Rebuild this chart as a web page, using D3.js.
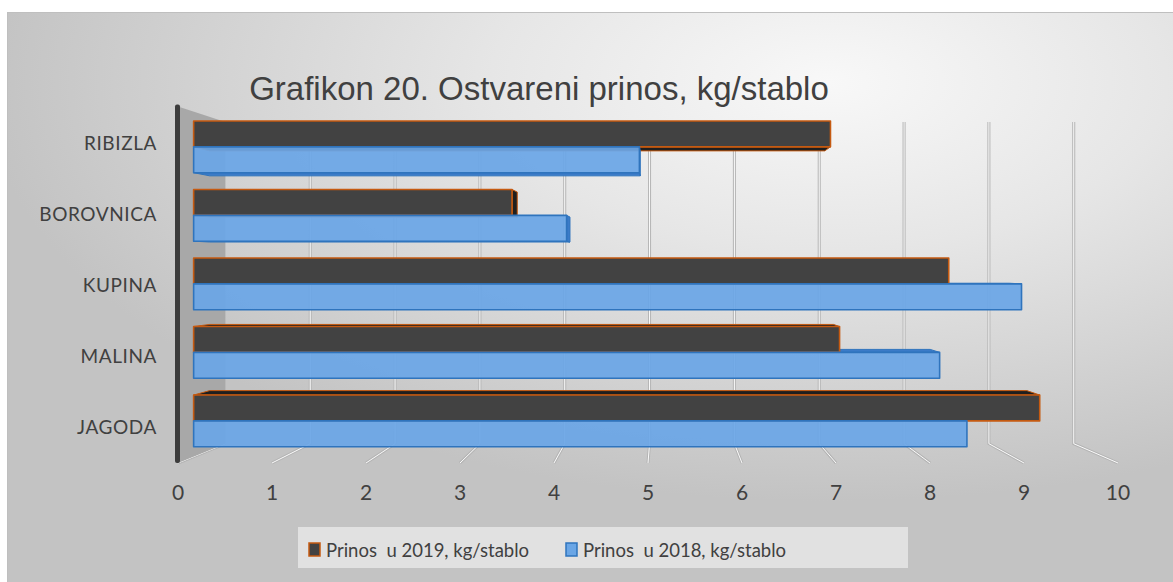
<!DOCTYPE html>
<html>
<head>
<meta charset="utf-8">
<script src="https://cdn.jsdelivr.net/npm/d3@7"></script>
<style>
  body { margin: 0; background: #fff; }
  text { font-family: Lato, "Open Sans", sans-serif; fill: #404040; white-space: pre; }
</style>
</head>
<body>
<div id="chart"></div>
<script>
const categories = ["RIBIZLA", "BOROVNICA", "KUPINA", "MALINA", "JAGODA"]
const prinos2019 = [7.0, 3.5, 8.3, 7.1, 9.3]
const prinos2018 = [4.9, 4.1, 9.1, 8.2, 8.5]
const seriesNames = ["Prinos  u 2019, kg/stablo", "Prinos  u 2018, kg/stablo"]
const xTicks = [0, 1, 2, 3, 4, 5, 6, 7, 8, 9, 10]
const title = "Grafikon 20. Ostvareni prinos, kg/stablo"

const width = 1173, height = 582

// front plane scales, the depth is done with a simple vanishing point
const x = d3.scaleLinear().domain([0, 10]).range([178, 1118])
const y = d3.scaleBand().domain(categories).range([107.5, 461.5])
const ySeries = d3.scaleBand().domain(["2019", "2018"])
    .range([0, y.bandwidth()]).paddingOuter(0.325)
const V = {x: 664, y: 265}, K = 0.0975
const P = (px, py, z) => [V.x + (px - V.x) * (1 - K * z), V.y + (py - V.y) * (1 - K * z)]
const z1 = 0.33, z2 = 0.67
const yTop = y.range()[0], yBot = y.range()[1] + 1.5

const svg = d3.select("#chart").append("svg")
    .attr("width", width)
    .attr("height", height)

const defs = svg.append("defs")
const bg = defs.append("radialGradient").attr("id", "bg")
    .attr("cx", "70%").attr("cy", "12%").attr("r", "72%")
bg.append("stop").attr("offset", "0%").attr("stop-color", "#f8f8f8")
bg.append("stop").attr("offset", "40%").attr("stop-color", "#e6e6e6")
bg.append("stop").attr("offset", "100%").attr("stop-color", "#c3c3c3")

svg.append("rect")
    .attr("x", 7.5).attr("y", 12.5)
    .attr("width", width).attr("height", height)
    .attr("fill", "url(#bg)")
    .attr("stroke", "#bfbfbf")

svg.append("text")
    .attr("x", 539).attr("y", 100)
    .attr("text-anchor", "middle")
    .style("font-family", "'Liberation Sans', Arial, sans-serif")
    .style("font-size", "33px")
    .text(title)

const line = d3.line()
const grid = svg.append("g")

// floor lines and back wall gridlines, drawn as light double lines
xTicks.forEach(v => {
    const pts = [P(x(v), yBot, 0), P(x(v), yBot, 1)]
    if (v > 0) pts.push(P(x(v), yTop - 1, 1))
    grid.append("path").attr("d", line(pts))
        .attr("fill", "none").attr("stroke", "#b4b4b4").attr("stroke-width", 3)
    grid.append("path").attr("d", line(pts))
        .attr("fill", "none").attr("stroke", "#fbfbfb").attr("stroke-width", 1)
})

// left side wall
const wall = [P(x(0), yTop - 1, 0), P(x(0), yTop - 1, 1), P(x(0), yBot, 1), P(x(0), yBot, 0)]
svg.append("path").attr("d", line(wall) + "Z").attr("fill", "#a8a8a8")
svg.append("rect")
    .attr("x", x(0) - 3).attr("y", yTop - 3)
    .attr("width", 5).attr("height", yBot - yTop + 3)
    .attr("rx", 2)
    .attr("fill", "#3c3c3c")

// bars
const bars = []
categories.forEach((c, i) => {
    bars.push({cat: c, s: "2019", v: prinos2019[i]})
    bars.push({cat: c, s: "2018", v: prinos2018[i]})
})
const style = {
    "2019": {front: "#424242", side: "#1f1f1f", stroke: "#c55a11"},
    "2018": {front: "#6aa6e6", side: "#3b7bc8", stroke: "#2f74bd"}
}

const sides = svg.append("g")
const fronts = svg.append("g")
bars.forEach(b => {
    const x0 = x(0), x1 = x(b.v)
    const y0 = y(b.cat) + ySeries(b.s)
    const y1 = y0 + ySeries.bandwidth()
    const st = style[b.s]
    const faces = []
    if (y1 < V.y) faces.push([P(x0, y1, z1), P(x1, y1, z1), P(x1, y1, z2), P(x0, y1, z2)])
    if (y0 > V.y) faces.push([P(x0, y0, z1), P(x1, y0, z1), P(x1, y0, z2), P(x0, y0, z2)])
    if (x1 < V.x) faces.push([P(x1, y0, z1), P(x1, y1, z1), P(x1, y1, z2), P(x1, y0, z2)])
    faces.forEach(f => {
        sides.append("path").attr("d", line(f) + "Z")
            .attr("fill", st.side).attr("stroke", st.stroke)
            .attr("stroke-width", 1).attr("stroke-linejoin", "round")
    })
    const front = [P(x0, y0, z1), P(x1, y0, z1), P(x1, y1, z1), P(x0, y1, z1)]
    fronts.append("path").attr("d", line(front) + "Z")
        .attr("fill", st.front).attr("fill-opacity", b.s == "2018" ? 0.93 : 1)
        .attr("stroke", st.stroke).attr("stroke-width", 1.6)
        .attr("stroke-linejoin", "round")
})

// axis labels
svg.append("g").selectAll("text")
    .data(xTicks).enter().append("text")
    .attr("x", d => x(d)).attr("y", 491)
    .attr("text-anchor", "middle").attr("dominant-baseline", "central")
    .style("font-size", "21px")
    .text(d => d)

svg.append("g").selectAll("text")
    .data(categories).enter().append("text")
    .attr("x", 157).attr("y", d => y(d) + y.bandwidth() / 2)
    .attr("text-anchor", "end").attr("dominant-baseline", "central")
    .style("font-size", "19px")
    .style("letter-spacing", "0.6px")
    .text(d => d)

// legend
const legend = svg.append("g")
legend.append("rect")
    .attr("x", 298).attr("y", 527).attr("width", 610).attr("height", 41)
    .attr("fill", "#e9e9e9").attr("fill-opacity", 0.8)
const items = [{name: seriesNames[0], s: "2019", x: 309}, {name: seriesNames[1], s: "2018", x: 566}]
items.forEach(it => {
    legend.append("rect")
        .attr("x", it.x).attr("y", 543).attr("width", 11).attr("height", 13)
        .attr("fill", style[it.s].front).attr("stroke", style[it.s].stroke).attr("stroke-width", 1.5)
    legend.append("text")
        .attr("x", it.x + 17).attr("y", 550)
        .attr("dominant-baseline", "central")
        .style("font-size", "18.5px")
        .text(it.name)
})
</script>
</body>
</html>
